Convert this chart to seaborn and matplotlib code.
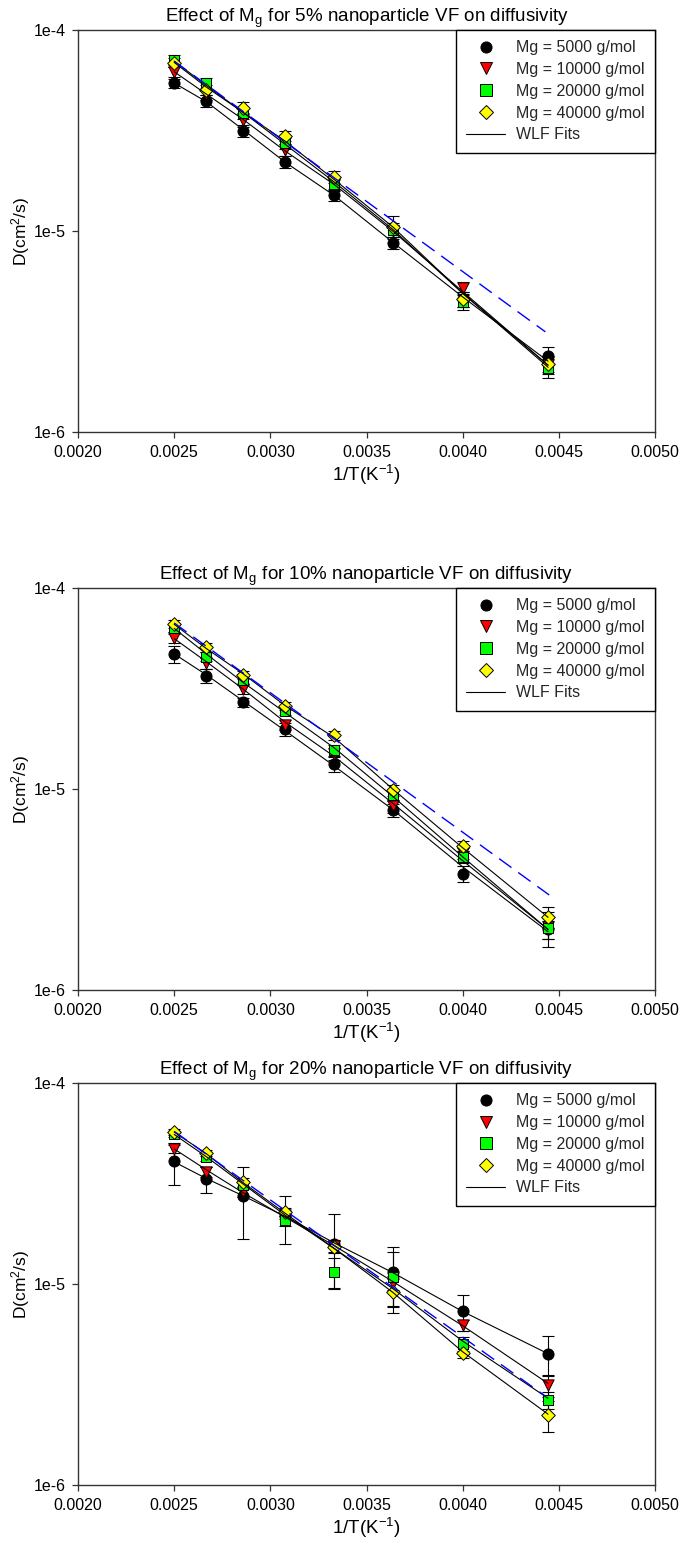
import numpy as np
import pandas as pd
import matplotlib
matplotlib.use("Agg")
import matplotlib.pyplot as plt
import seaborn as sns
from matplotlib.lines import Line2D
from matplotlib.ticker import FixedLocator, NullLocator

# ---------------- data ----------------
INV_T = [0.002500, 0.002667, 0.002857, 0.003077, 0.003333, 0.003636, 0.004000, 0.004444]
SERIES = ["Mg = 5000 g/mol", "Mg = 10000 g/mol", "Mg = 20000 g/mol", "Mg = 40000 g/mol"]
FIT_LABEL = "WLF Fits"
TITLES = [r"Effect of M$_\mathregular{g}$ for 5% nanoparticle VF on diffusivity",
          r"Effect of M$_\mathregular{g}$ for 10% nanoparticle VF on diffusivity",
          r"Effect of M$_\mathregular{g}$ for 20% nanoparticle VF on diffusivity"]
X_TICKS = [0.0020, 0.0025, 0.0030, 0.0035, 0.0040, 0.0045, 0.0050]
X_TICK_LABELS = ["0.0020", "0.0025", "0.0030", "0.0035", "0.0040", "0.0045", "0.0050"]
Y_TICKS = [1e-6, 1e-5, 1e-4]
Y_TICK_LABELS = ["1e-6", "1e-5", "1e-4"]

# 5 % VF
VF5_D = [
    [5.43e-5, 4.43e-5, 3.15e-5, 2.20e-5, 1.51e-5, 8.70e-6, 4.60e-6, 2.40e-6],
    [6.16e-5, 4.80e-5, 3.56e-5, 2.53e-5, 1.70e-5, 1.00e-5, 5.19e-6, 2.15e-6],
    [7.10e-5, 5.43e-5, 3.85e-5, 2.73e-5, 1.72e-5, 1.01e-5, 4.45e-6, 2.08e-6],
    [6.88e-5, 5.03e-5, 4.11e-5, 2.98e-5, 1.86e-5, 1.05e-5, 4.59e-6, 2.18e-6],
]
VF5_ERR = [
    [3.0e-6, 3.0e-6, 2.0e-6, 1.5e-6, 1.0e-6, 6.0e-7, 4.0e-7, 2.5e-7],
    [3.5e-6, 3.0e-6, 2.5e-6, 1.8e-6, 1.2e-6, 7.0e-7, 4.0e-7, 2.0e-7],
    [4.0e-6, 3.5e-6, 2.5e-6, 1.8e-6, 1.2e-6, 8.0e-7, 4.0e-7, 2.2e-7],
    [3.5e-6, 3.0e-6, 2.5e-6, 1.8e-6, 1.2e-6, 1.4e-6, 4.0e-7, 2.0e-7],
]
VF5_FIT = [
    [5.45e-5, 4.40e-5, 3.20e-5, 2.20e-5, 1.50e-5, 8.80e-6, 4.70e-6, 2.25e-6],
    [6.20e-5, 4.80e-5, 3.60e-5, 2.50e-5, 1.70e-5, 1.00e-5, 5.00e-6, 2.15e-6],
    [7.00e-5, 5.30e-5, 3.90e-5, 2.70e-5, 1.75e-5, 1.02e-5, 4.90e-6, 2.10e-6],
    [6.90e-5, 5.20e-5, 3.90e-5, 2.80e-5, 1.80e-5, 1.05e-5, 4.90e-6, 2.15e-6],
]
VF5_BLUE_X = [0.00250, 0.00443]
VF5_BLUE_D = [7.00e-5, 3.15e-6]

# 10 % VF
VF10_D = [
    [4.70e-5, 3.66e-5, 2.70e-5, 1.99e-5, 1.33e-5, 7.85e-6, 3.79e-6, 2.00e-6],
    [5.62e-5, 4.22e-5, 3.14e-5, 2.09e-5, 1.50e-5, 8.22e-6, 4.80e-6, 2.05e-6],
    [6.31e-5, 4.56e-5, 3.49e-5, 2.45e-5, 1.56e-5, 9.29e-6, 4.60e-6, 2.03e-6],
    [6.63e-5, 5.08e-5, 3.70e-5, 2.58e-5, 1.85e-5, 9.84e-6, 5.20e-6, 2.31e-6],
]
VF10_ERR = [
    [4.5e-6, 3.0e-6, 1.5e-6, 1.5e-6, 1.2e-6, 6.0e-7, 3.5e-7, 2.0e-7],
    [3.0e-6, 2.5e-6, 1.8e-6, 1.2e-6, 1.0e-6, 6.0e-7, 3.0e-7, 2.5e-7],
    [3.0e-6, 2.5e-6, 1.8e-6, 1.2e-6, 1.0e-6, 6.0e-7, 3.0e-7, 4.0e-7],
    [3.0e-6, 2.5e-6, 1.8e-6, 1.2e-6, 1.0e-6, 6.0e-7, 3.0e-7, 2.7e-7],
]
VF10_FIT = [
    [4.70e-5, 3.70e-5, 2.75e-5, 1.95e-5, 1.30e-5, 7.90e-6, 4.10e-6, 1.95e-6],
    [5.60e-5, 4.30e-5, 3.15e-5, 2.15e-5, 1.45e-5, 8.50e-6, 4.40e-6, 2.00e-6],
    [6.30e-5, 4.70e-5, 3.40e-5, 2.40e-5, 1.60e-5, 9.20e-6, 4.60e-6, 2.00e-6],
    [6.60e-5, 5.00e-5, 3.75e-5, 2.60e-5, 1.80e-5, 1.00e-5, 5.10e-6, 2.30e-6],
]
VF10_BLUE_X = [0.00250, 0.00445]
VF10_BLUE_D = [6.70e-5, 2.97e-6]

# 20 % VF
VF20_D = [
    [4.07e-5, 3.34e-5, 2.75e-5, 2.17e-5, 1.59e-5, 1.15e-5, 7.33e-6, 4.50e-6],
    [4.69e-5, 3.60e-5, 2.86e-5, 2.20e-5, 1.55e-5, 1.01e-5, 6.22e-6, 3.13e-6],
    [5.58e-5, 4.27e-5, 3.12e-5, 2.09e-5, 1.15e-5, 1.08e-5, 5.05e-6, 2.65e-6],
    [5.69e-5, 4.48e-5, 3.20e-5, 2.28e-5, 1.53e-5, 9.14e-6, 4.56e-6, 2.23e-6],
]
VF20_ERR = [
    [9.5e-6, 5.0e-6, 1.07e-5, 5.8e-6, 6.5e-6, 3.7e-6, 1.5e-6, 1.0e-6],
    [2.0e-6, 2.0e-6, 1.5e-6, 1.0e-6, 1.0e-6, 8.0e-7, 4.0e-7, 4.0e-7],
    [2.0e-6, 2.0e-6, 1.5e-6, 1.5e-6, 2.0e-6, 3.6e-6, 4.0e-7, 2.5e-7],
    [2.0e-6, 1.5e-6, 1.5e-6, 1.0e-6, 1.0e-6, 1.5e-6, 3.0e-7, 4.0e-7],
]
VF20_FIT = [
    [4.05e-5, 3.35e-5, 2.75e-5, 2.17e-5, 1.60e-5, 1.14e-5, 7.30e-6, 4.50e-6],
    [4.70e-5, 3.70e-5, 2.85e-5, 2.15e-5, 1.55e-5, 1.03e-5, 6.20e-6, 3.20e-6],
    [5.55e-5, 4.30e-5, 3.15e-5, 2.20e-5, 1.50e-5, 9.50e-6, 5.20e-6, 2.70e-6],
    [5.70e-5, 4.45e-5, 3.20e-5, 2.25e-5, 1.50e-5, 9.10e-6, 4.60e-6, 2.25e-6],
]
VF20_BLUE_X = [0.00250, 0.00443]
VF20_BLUE_D = [5.75e-5, 2.77e-6]

# ---------------- style ----------------
COLORS = ["#000000", "#FF0000", "#00FF00", "#FFFF00"]
MARKERS = ["o", "v", "s", "D"]
MSIZES = [64, 66, 52, 48]

sns.set_theme(style="ticks")
plt.rcParams["font.family"] = ["Liberation Sans", "DejaVu Sans"]
plt.rcParams["mathtext.default"] = "regular"

W, H = 681, 1542
fig = plt.figure(figsize=(W / 100, H / 100), dpi=100)

AX_LEFT, AX_RIGHT = 78, 655
PANEL_TOPS = [30, 588, 1083]
PANEL_H = 402


def draw_panel(ax, title, D, ERR, FIT, bx, bd):
    ax.set_yscale("log")
    rows = []
    for i, s in enumerate(SERIES):
        for j, x in enumerate(INV_T):
            rows.append({"x": x, "D": D[i][j], "err": ERR[i][j], "fit": FIT[i][j], "series": s})
    df = pd.DataFrame(rows)

    for i, s in enumerate(SERIES):
        sub = df[df.series == s]
        ax.errorbar(sub.x, sub.D, yerr=sub.err, fmt="none", ecolor="black",
                    elinewidth=0.8, capsize=4, capthick=0.8, zorder=2)
    for i, s in enumerate(SERIES):
        sub = df[df.series == s]
        sns.scatterplot(data=sub, x="x", y="D", color=COLORS[i], marker=MARKERS[i],
                        s=MSIZES[i], edgecolor="black", linewidth=0.7, ax=ax,
                        legend=False, zorder=3 + i * 0.1)
    sns.lineplot(data=df, x="x", y="fit", units="series", estimator=None,
                 color="black", lw=0.8, ax=ax, sort=False, zorder=5, legend=False)
    sns.lineplot(x=bx, y=bd, color="#0000FF", lw=1.0, ax=ax, zorder=6,
                 linestyle=(0, (11, 6)), legend=False)

    ax.set_xlim(0.0020, 0.0050)
    ax.set_ylim(1e-6, 1e-4)
    ax.xaxis.set_major_locator(FixedLocator(X_TICKS))
    ax.set_xticklabels(X_TICK_LABELS)
    ax.yaxis.set_major_locator(FixedLocator(Y_TICKS))
    ax.set_yticklabels(Y_TICK_LABELS)
    ax.yaxis.set_minor_locator(NullLocator())
    ax.xaxis.set_minor_locator(NullLocator())
    ax.tick_params(axis="both", which="major", direction="out", length=4.5, width=0.9,
                   color="#333333", labelsize=11.5, labelcolor="black")
    ax.tick_params(axis="x", pad=5)
    ax.tick_params(axis="y", pad=4)
    for sp in ax.spines.values():
        sp.set_visible(True)
        sp.set_color("#333333")
        sp.set_linewidth(1.0)

    ax.set_title(title, fontsize=13.5, pad=6, color="black")
    ax.set_xlabel(r"1/T(K$^{-1}$)", fontsize=13.5, color="black")
    ax.set_ylabel(r"D(cm$^{2}$/s)", fontsize=12.5, color="black")
    ax.xaxis.set_label_coords(0.5, -0.078)
    ax.yaxis.set_label_coords(-0.079, 0.5)

    handles = [Line2D([], [], linestyle="none", marker=MARKERS[i], markersize=8 if i < 3 else 7,
                      markerfacecolor=COLORS[i], markeredgecolor="black", markeredgewidth=0.7)
               for i in range(4)]
    handles.append(Line2D([], [], color="black", lw=0.8))
    leg = ax.legend(handles, SERIES + [FIT_LABEL], loc="upper right", borderaxespad=0,
                    frameon=True, fancybox=False, framealpha=1, edgecolor="black",
                    fontsize=11.5, handlelength=2.4, handletextpad=0.7,
                    labelspacing=0.42, borderpad=0.65)
    leg.get_frame().set_linewidth(1.0)
    leg.set_zorder(10)


PANELS = [
    (TITLES[0], VF5_D, VF5_ERR, VF5_FIT, VF5_BLUE_X, VF5_BLUE_D),
    (TITLES[1], VF10_D, VF10_ERR, VF10_FIT, VF10_BLUE_X, VF10_BLUE_D),
    (TITLES[2], VF20_D, VF20_ERR, VF20_FIT, VF20_BLUE_X, VF20_BLUE_D),
]
for top, args in zip(PANEL_TOPS, PANELS):
    ax = fig.add_axes([AX_LEFT / W, 1 - (top + PANEL_H) / H, (AX_RIGHT - AX_LEFT) / W, PANEL_H / H])
    draw_panel(ax, *args)

fig.savefig("out.png", dpi=100, facecolor="white")
